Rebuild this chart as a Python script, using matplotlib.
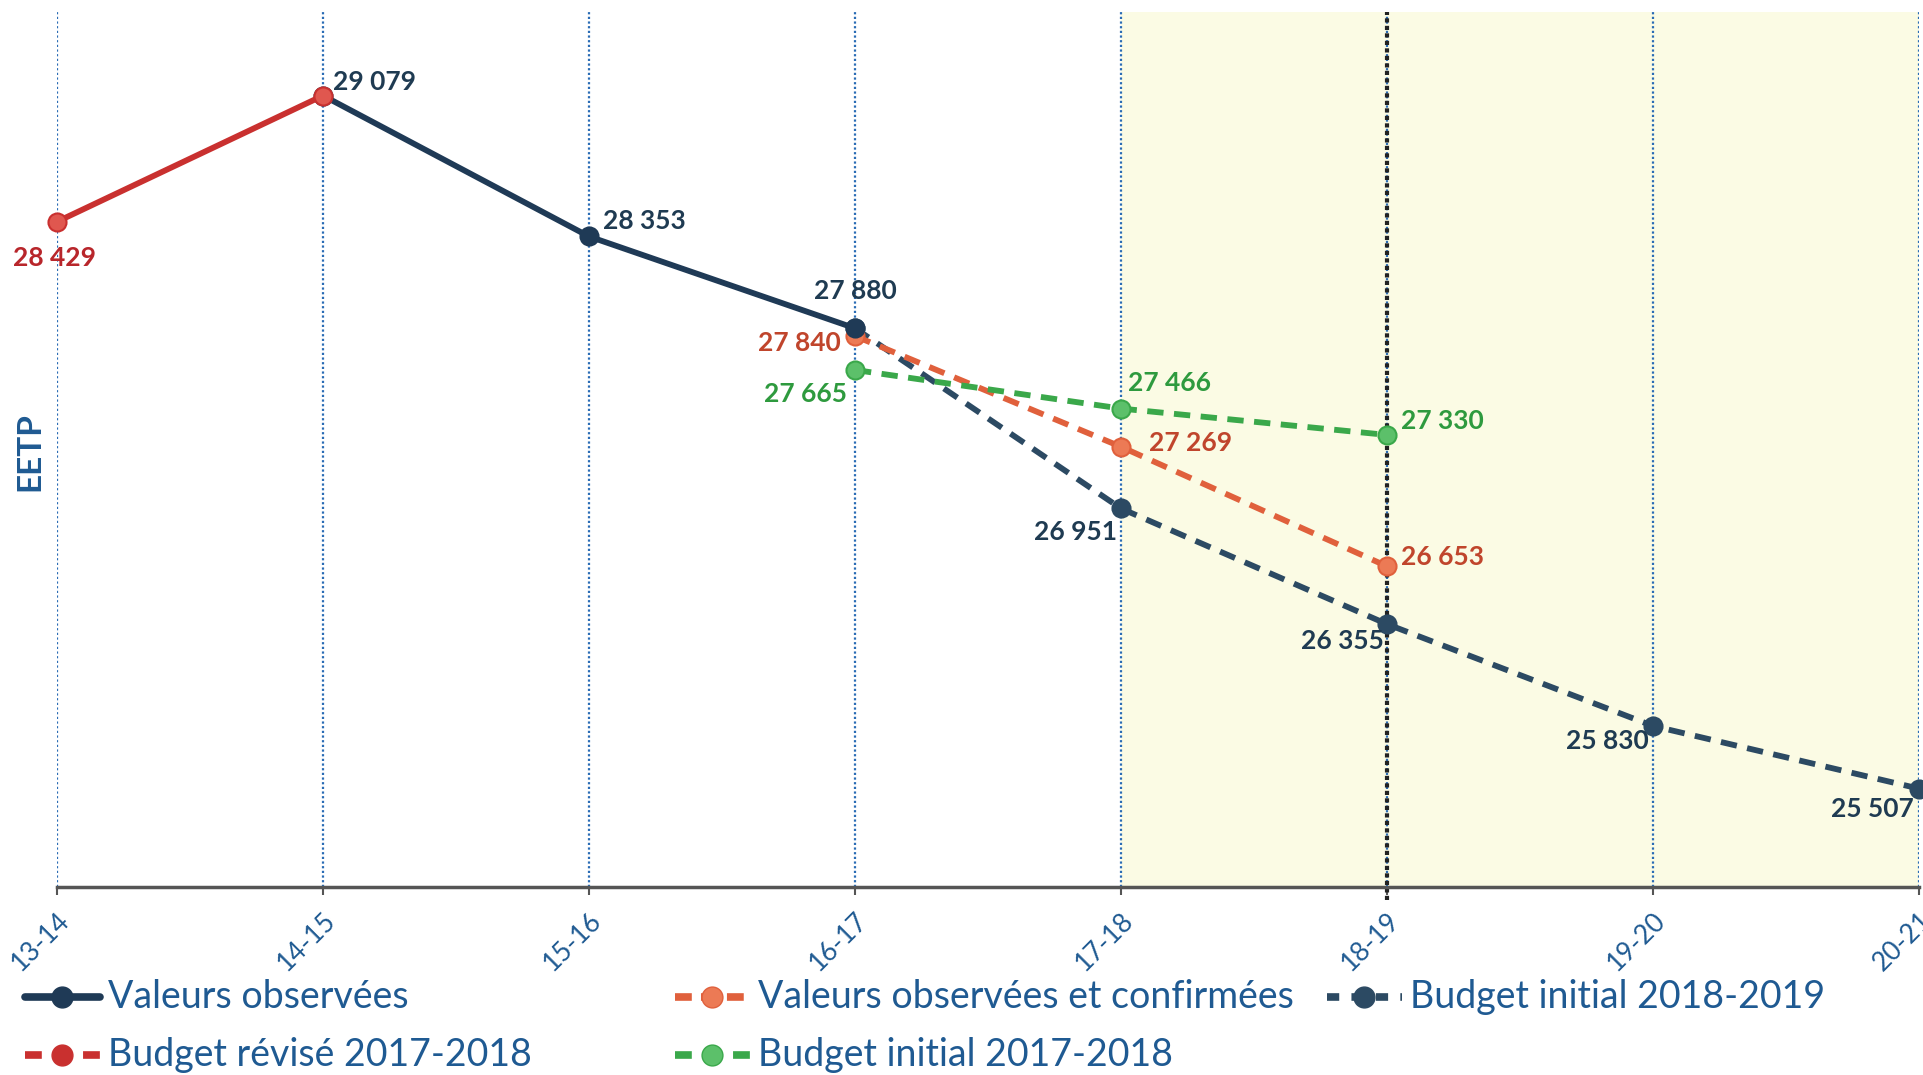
import matplotlib.pyplot as plt
from matplotlib.lines import Line2D

# categories (school years)
years = ["13-14", "14-15", "15-16", "16-17", "17-18", "18-19", "19-20", "20-21"]

# series, index of the first year + values
obs_x = [1, 2, 3]
obs_y = [29079, 28353, 27880]

conf_x = [0, 1]
conf_y = [28429, 29079]

rev_x = [3, 4, 5]
rev_y = [27840, 27269, 26653]

bi1718_x = [3, 4, 5]
bi1718_y = [27665, 27466, 27330]

bi1819_x = [3, 4, 5, 6, 7]
bi1819_y = [27880, 26951, 26355, 25830, 25507]

NAVY = "#1f3a56"
NAVY2 = "#2c4a63"
RED = "#c9302f"
ORANGE = "#e0603c"
GREEN = "#3aa84a"
BLUE = "#1f5a92"
GRID = "#2a6cb5"

plt.rcParams["font.family"] = ["Lato", "DejaVu Sans"]

fig = plt.figure(figsize=(19.23, 10.75), dpi=100)
ax = fig.add_axes([57 / 1923, 1 - 887 / 1075, (1919 - 57) / 1923, (887 - 12) / 1075])

ax.set_xlim(0, 7)
ax.set_ylim(25000, 29510)

# forecast zone
ax.axvspan(4, 7, color="#fbfbe4", zorder=0)

for i in range(len(years)):
    ax.axvline(i, color=GRID, lw=1.6, ls=(0, (1, 1.1)), zorder=1)
ax.axvline(5, color="#222222", lw=3, ls=(0, (1, 0.8)), zorder=2, ymin=-0.015, clip_on=False)

ms = 13
lw = 4.2


def draw(xs, ys, color, mfc, ls, z):
    ax.plot(xs, ys, color=color, lw=lw, ls=ls,
            marker="o", ms=ms, mfc=mfc, mec=color, mew=1.5, zorder=z, clip_on=False)


dash = (0, (2.8, 1.8))
draw(bi1819_x, bi1819_y, NAVY2, NAVY2, dash, 3)
draw(rev_x, rev_y, ORANGE, "#ec7a55", dash, 4)
draw(bi1718_x, bi1718_y, GREEN, "#5cc06a", dash, 4)
draw(obs_x, obs_y, NAVY, NAVY, "-", 5)
draw(conf_x, conf_y, RED, "#e0574f", "-", 6)

# data labels
label_font = dict(fontsize=19, fontweight="bold")


def labels(xs, ys, color, offsets):
    for x, y, (dx, dy, ha) in zip(xs, ys, offsets):
        ax.annotate(f"{y:,}".replace(",", " "), (x, y), xytext=(dx, dy),
                    textcoords="offset points", ha=ha, va="center",
                    color=color, zorder=10, annotation_clip=False, **label_font)


labels(conf_x[:1], conf_y[:1], "#b8262b", [(-2, -26, "center")])
labels(obs_x, obs_y, "#1f3b52", [(7, 10, "left"), (10, 11.5, "left"), (0, 27, "center")])
labels(rev_x, rev_y, "#c0452c", [(-10, -5, "right"), (20, 2.5, "left"), (10, 7, "left")])
labels(bi1718_x, bi1718_y, "#2e9a3e", [(-6, -17, "right"), (5, 18.5, "left"), (10, 10, "left")])
labels(bi1819_x[1:], bi1819_y[1:], "#1f3b52",
       [(-3, -17, "right"), (-2, -12, "right"), (-3, -10.5, "right"), (-4, -15, "right")])

# axes styling
for s in ["top", "right", "left"]:
    ax.spines[s].set_visible(False)
ax.spines["bottom"].set_color("#555555")
ax.spines["bottom"].set_linewidth(2.5)
ax.set_yticks([])
ax.set_xticks(range(len(years)))
ax.set_xticklabels(years, rotation=45, ha="right", va="top", rotation_mode="anchor",
                   color=BLUE, fontsize=19)
ax.tick_params(axis="x", length=6, width=1.5, color="#555555", pad=9)

fig.text(30 / 1923, 1 - 452 / 1075, "EETP", rotation=90, ha="center", va="center",
         color=BLUE, fontsize=24, fontweight="bold")

# legend, drawn by hand to follow the original layout
legend_items = [
    ("Valeurs observées", NAVY, NAVY, "-", 25, 997),
    ("Valeurs observées et confirmées", ORANGE, "#ec7a55", (0, (2.2, 1.2)), 675, 997),
    ("Budget initial 2018-2019", NAVY2, NAVY2, (0, (1.6, 1.6)), 1327, 997),
    ("Budget révisé 2017-2018", RED, RED, (0, (2.2, 1.6)), 25, 1055),
    ("Budget initial 2017-2018", GREEN, "#5cc06a", (0, (2.2, 1.6)), 675, 1055),
]
W, H = 1923, 1075
for text, color, mfc, ls, x0, y0 in legend_items:
    yy = 1 - y0 / H
    fig.add_artist(Line2D([x0 / W, (x0 + 75) / W], [yy, yy], transform=fig.transFigure,
                          color=color, lw=5.5, ls=ls, solid_capstyle="round"))
    fig.add_artist(Line2D([(x0 + 37) / W], [yy], transform=fig.transFigure,
                          marker="o", ms=15, color=color, mfc=mfc, mec=color))
    fig.text((x0 + 83) / W, yy, text, ha="left", va="center", color=BLUE, fontsize=27)

fig.savefig("out.png", dpi=100)
